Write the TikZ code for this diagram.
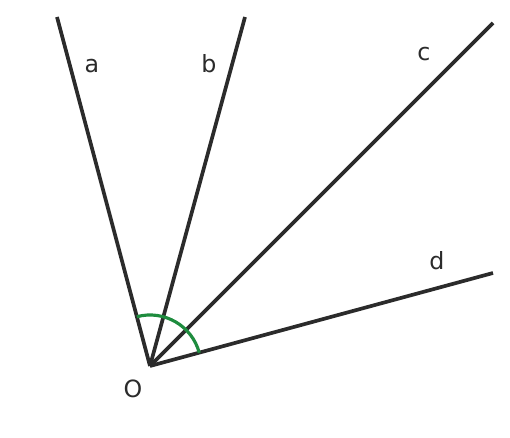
\documentclass[tikz,border=0pt]{standalone}
\usepackage{fontspec}
\setmainfont{DejaVu Sans}
\definecolor{raygray}{HTML}{2B2B2B}
\definecolor{anglegreen}{HTML}{1E8C3E}
\tikzset{
  ray/.style={draw=raygray, line width=2.1pt},
  anglearc/.style={draw=anglegreen, line width=1.8pt},
  lbl/.style={anchor=base, text=raygray, inner sep=0pt, font=\fontsize{13.5}{15}\selectfont}
}

\begin{document}
\begin{tikzpicture}[x=0.02cm, y=0.02cm]
                \useasboundingbox (0,0) rectangle (510,438);

                \coordinate (O) at (150,72);
                \coordinate (a) at (57,421);
                \coordinate (b) at (245,421);
                \coordinate (c) at (493,415);
                \coordinate (d) at (493,165);

                \draw[ray] (O) -- (a);
                \draw[ray] (O) -- (b);
                \draw[ray] (O) -- (c);
                \draw[ray] (O) -- (d);

                \draw[anglearc] (O) ++(105:51) arc[start angle=105, end angle=15, radius=51];

                \node[lbl] (la) at (92,365) {a};
                \node[lbl] (lb) at (209,365) {b};
                \node[lbl] (lc) at (424,377) {c};
                \node[lbl] (ld) at (437,168.5) {d};
                \node[lbl] (lO) at (133,40) {O};
            \end{tikzpicture}
\end{document}
